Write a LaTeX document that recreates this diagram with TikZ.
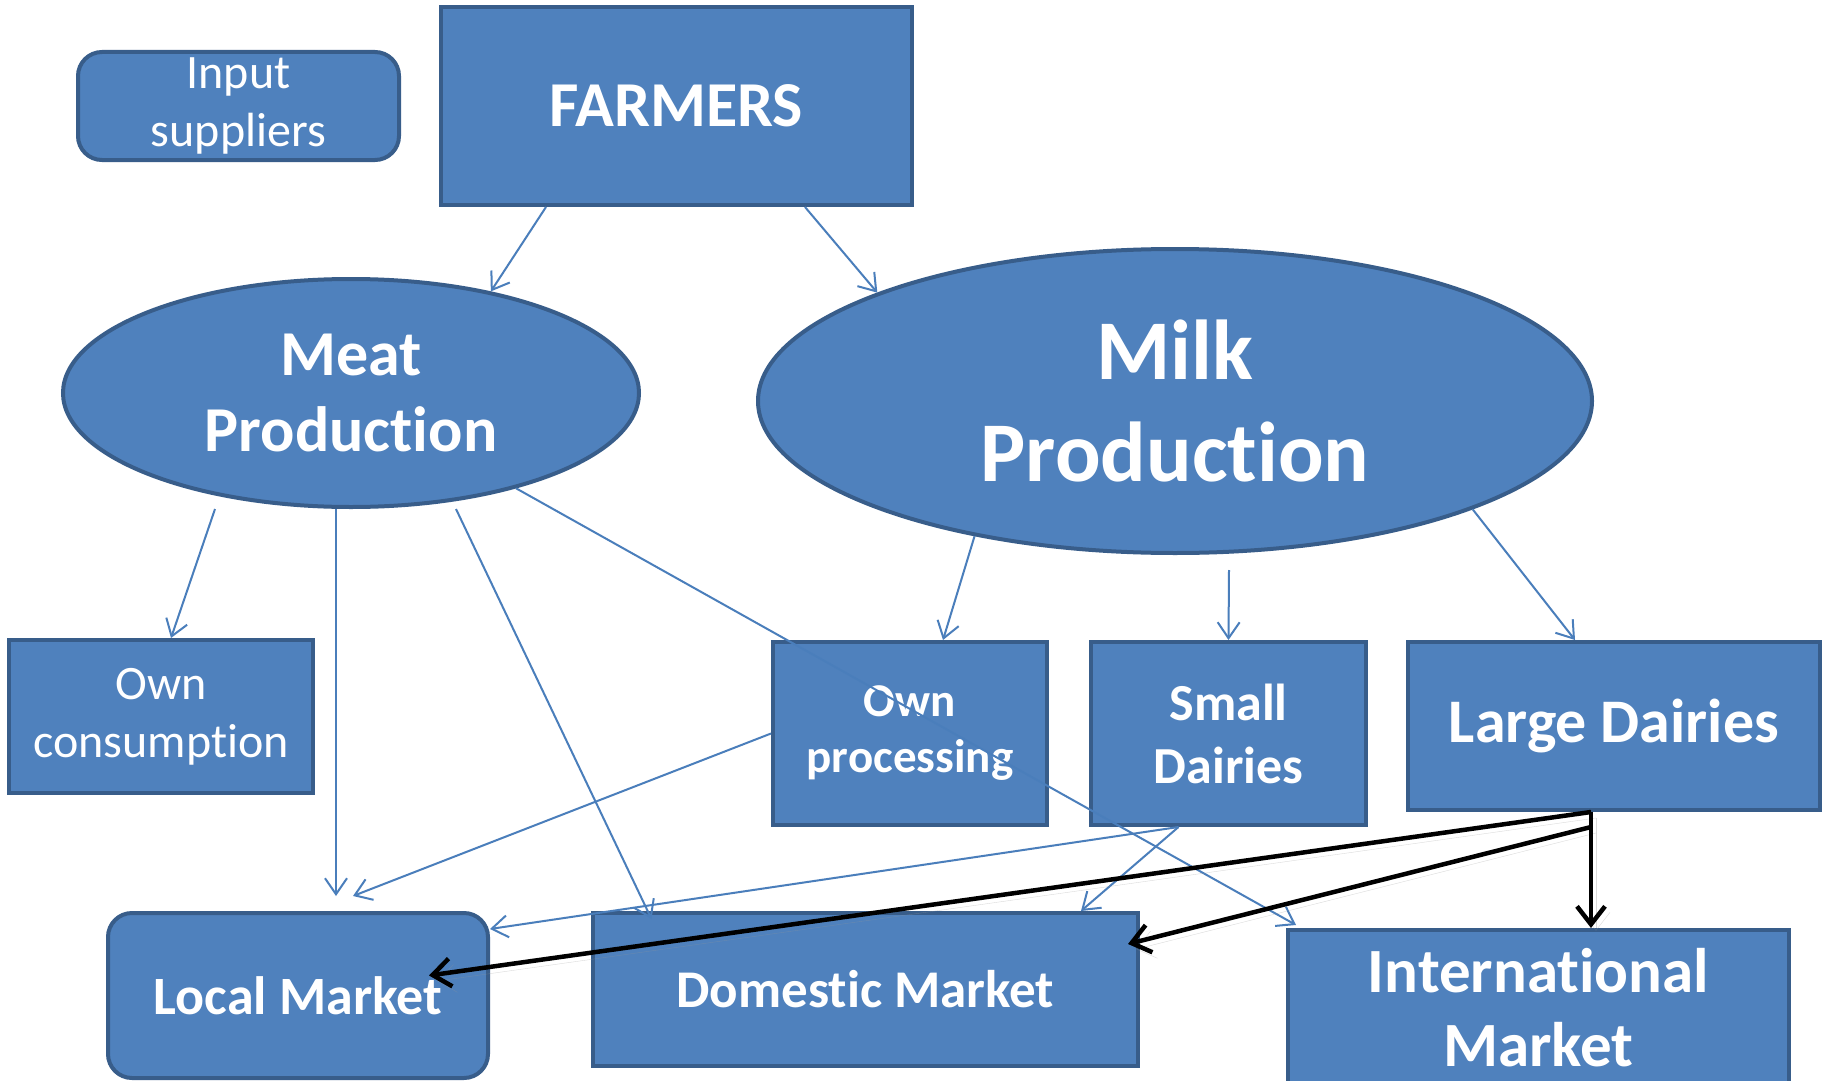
\documentclass[tikz,border=0pt]{standalone}
\usepackage{fontspec}
\setmainfont{Carlito}[Ligatures=NoCommon]
\usetikzlibrary{shapes.geometric,arrows.meta}
\definecolor{boxblue}{HTML}{4F81BD}
\definecolor{edgeblue}{HTML}{385D8A}
\definecolor{lineblue}{HTML}{4A7EBB}
\begin{document}
\begin{tikzpicture}[x=1pt,y=-1pt,
		box/.style={draw=edgeblue,fill=boxblue,line width=4pt,text=white,align=center,inner sep=0pt},
		rbox/.style={box,rounded corners=24pt},
		oval/.style={box,ellipse},
		flow/.style={draw=lineblue,line width=2pt,-{Straight Barb[length=16pt,width=22pt]}},
		bigflow/.style={draw=black,line width=4.5pt,-{Straight Barb[length=18pt,width=28pt]},
				preaction={draw=black!40,opacity=0.35,transform canvas={shift={(5pt,-6pt)}}}}
	]
	\clip (0,0) rectangle (1829,1081);
	\fill[white] (0,0) rectangle (1829,1081);
	\node[rbox,minimum width=321pt,minimum height=108pt,font=\fontsize{48}{58}\selectfont] (inp) at (238.5,106) {Input\\suppliers};
	\node[box,minimum width=471pt,minimum height=198pt,font=\fontsize{64}{76}\selectfont\bfseries] (farm) at (676.5,106) {FARMERS};
	\node[oval,minimum width=576pt,minimum height=228pt,font=\fontsize{64}{76}\selectfont\bfseries] (meat) at (351,393) {Meat\\Production};
	\node[oval,minimum width=834pt,minimum height=304pt,font=\fontsize{85}{102}\selectfont\bfseries] (milk) at (1175,401) {Milk\\Production};
	\node[box,minimum width=304pt,minimum height=153pt,font=\fontsize{48}{58}\selectfont] (owncons) at (161,716.5) {Own\\consumption};
	\node[box,minimum width=274pt,minimum height=183pt,font=\fontsize{47}{56}\selectfont\bfseries] (ownproc) at (910,733.5) {Own\\processing};
	\node[box,minimum width=275pt,minimum height=183pt,font=\fontsize{52}{63}\selectfont\bfseries] (small) at (1228.5,733.5) {Small\\Dairies};
	\node[box,minimum width=412pt,minimum height=168pt,font=\fontsize{62}{72}\selectfont\bfseries] (large) at (1614,726) {Large Dairies};
	\node[rbox,minimum width=380pt,minimum height=165pt,font=\fontsize{54}{64}\selectfont\bfseries] (local) at (298,995.5) {Local Market};
	\node[box,minimum width=545pt,minimum height=153pt,font=\fontsize{53}{64}\selectfont\bfseries] (dom) at (865.5,989.5) {Domestic Market};
	\node[box,minimum width=501pt,minimum height=156pt,font=\fontsize{63}{74}\selectfont\bfseries] (intl) at (1538.5,1008) {International\\Market};
	\draw[flow] ([xshift=-130.5pt]farm.south) -- (meat.36);
	\draw[flow] ([xshift=128.5pt]farm.south) -- (milk.160);
	\draw[flow] ([xshift=-136pt]meat.south) -- ([xshift=10pt]owncons.north);
	\draw[flow] ([xshift=-15pt]meat.south) -- ([xshift=38pt,yshift=15pt]local.north);
	\draw[flow] ([xshift=105pt]meat.south) -- ([xshift=-214pt,yshift=-8pt]dom.north);
	\draw[flow] (meat.-30) -- ([xshift=10pt,yshift=3pt]intl.north west);
	\draw[flow] (milk.-146) -- ([xshift=33pt]ownproc.north);
	\draw[flow] ([xshift=54pt,yshift=-15pt]milk.south) -- (small.north);
	\draw[flow] (milk.-20) -- ([xshift=-39pt]large.north);
	\draw[flow] (ownproc.west) -- ([xshift=55pt,yshift=15pt]local.north);
	\draw[flow] ([xshift=-50pt]small.south) -- ([yshift=-18pt]local.north east);
	\draw[flow] ([xshift=-50pt]small.south) -- ([xshift=-59pt]dom.north east);
	\coordinate (ldout) at ([xshift=-23pt]large.south);
	\draw[bigflow] (ldout) -- ([xshift=131pt,yshift=20pt]local.center);
	\draw[bigflow] ([yshift=-15pt]ldout) -- ([xshift=-12pt,yshift=-33pt]dom.north east);
	\draw[bigflow] (ldout) -- (ldout |- intl.north);
\end{tikzpicture}
\end{document}
